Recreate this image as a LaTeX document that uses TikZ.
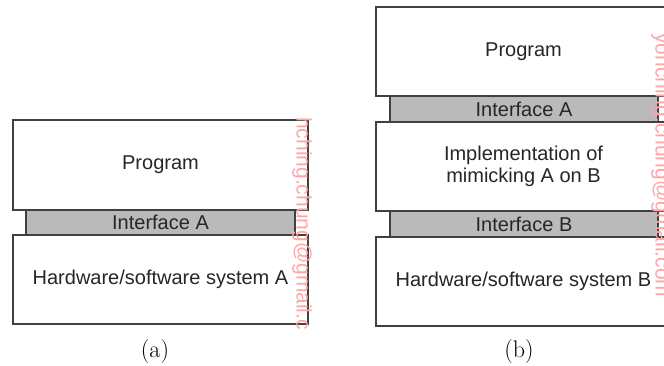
\documentclass[tikz,border=0pt]{standalone}
\usepackage{fontspec}
\newfontfamily\boxfont{Liberation Sans}
\usetikzlibrary{positioning}

\tikzset{
  layer/.style={draw=black!75, line width=1.1pt, fill=white, minimum width=295pt,
    minimum height=89pt, inner sep=0pt, font=\boxfont\fontsize{20}{22}\selectfont,
    text=black!85, align=center},
  iface/.style={layer, fill=black!27, minimum width=268pt, minimum height=26pt},
  caption/.style={font=\fontsize{24}{26}\selectfont},
  wmark/.style={text=red!35, font=\boxfont\fontsize{21}{22}\selectfont, rotate=-90, anchor=west, inner sep=0pt}
}

\begin{document}
\begin{tikzpicture}[x=1pt, y=-1pt]
    \useasboundingbox (0,0) rectangle (664,366);

    % (a): program on system A
    \node[layer, minimum height=90pt] (progA) at (160.5,165) {Program};
    \node[layer] (hwA) at (160.5,279.5) {Hardware/software system A};
    \node[iface, minimum width=269pt, minimum height=25pt] (ifA) at (160.5,222.5) {Interface A};
    \node[caption] (capA) at (155,352) {(a)};

    % (b): program on system B through the mimicking layer
    \node[layer] (progB) at (523.5,51.5) {Program};
    \node[layer] (implB) at (523.5,166.5) {Implementation of\\mimicking A on B};
    \node[layer] (hwB) at (523.5,281.5) {Hardware/software system B};
    \node[iface] (ifAB) at (524,109) {Interface A};
    \node[iface] (ifBB) at (524,224) {Interface B};
    \node[caption] (capB) at (519,352) {(b)};

    % watermarks
    \begin{scope}
        \clip (280,117) rectangle (320,328);
        \node[wmark] (wmA) at (302,117) {hching.chung@gmail.com};
    \end{scope}
    \node[wmark] (wmB) at (661,33) {yohching.chung@gmail.com};
\end{tikzpicture}
\end{document}
